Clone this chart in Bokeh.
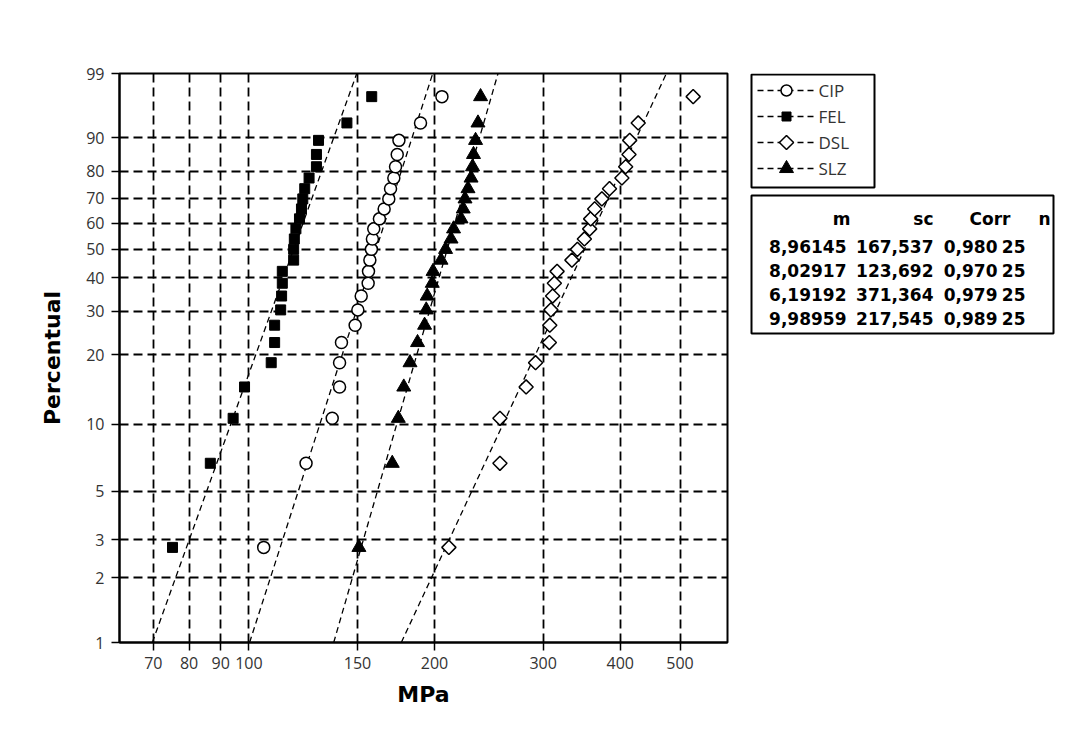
import numpy as np
from bokeh.plotting import figure
from bokeh.layouts import row
from bokeh.models import (FixedTicker, CustomJSTickFormatter, Range1d, ColumnDataSource)
from bokeh.core.properties import value
from bokeh.embed import file_html
from bokeh.resources import INLINE

# ---------------- data ----------------
groups = ["CIP", "FEL", "DSL", "SLZ"]
shape_m = [8.96145, 8.02917, 6.19192, 9.98959]
scale_sc = [167.537, 123.692, 371.364, 217.545]
corr = [0.980, 0.970, 0.979, 0.989]
n_obs = [25, 25, 25, 25]

# plotting positions (percent) shared by all series
percentual = [2.76, 6.69, 10.63, 14.57, 18.50, 22.44, 26.38, 30.31, 34.25, 38.19,
              42.13, 46.06, 50.00, 53.94, 57.87, 61.81, 65.75, 69.69, 73.62, 77.56,
              81.50, 85.43, 89.37, 93.31, 97.24]

cip_mpa = [105.7, 123.8, 136.5, 140.3, 140.3, 141.3, 148.7, 150.2, 152.1, 156.1,
           156.3, 157.1, 158.0, 158.6, 159.4, 162.8, 165.7, 168.6, 169.7, 171.8,
           172.9, 174.0, 175.1, 189.8, 205.6]
fel_mpa = [75.2, 86.6, 94.3, 98.4, 108.7, 110.1, 110.1, 112.6, 113.0, 113.3,
           113.3, 118.2, 118.2, 118.5, 119.2, 120.8, 121.7, 122.3, 123.2, 125.2,
           128.7, 128.7, 129.7, 144.2, 158.2]
dsl_mpa = [211.0, 255.3, 255.3, 281.5, 291.6, 307.0, 307.5, 308.8, 310.8, 312.8,
           316.0, 334.0, 340.9, 349.9, 356.9, 358.2, 363.6, 373.5, 384.3, 402.5,
           408.2, 413.3, 414.4, 427.8, 525.2]
slz_mpa = [150.8, 170.8, 174.7, 178.3, 182.5, 187.7, 192.7, 193.9, 194.6, 198.3,
           198.9, 204.9, 208.4, 212.7, 214.7, 220.8, 222.6, 224.1, 226.6, 229.2,
           230.5, 231.3, 233.1, 235.2, 237.5]
series = [cip_mpa, fel_mpa, dsl_mpa, slz_mpa]

x_ticks = [70, 80, 90, 100, 150, 200, 300, 400, 500]
y_ticks_pct = [1, 2, 3, 5, 10, 20, 30, 40, 50, 60, 70, 80, 90, 99]
table_header = ["m", "sc", "Corr", "n"]


def wz(pct):
    """Weibull probability-paper transform."""
    p = np.asarray(pct, dtype=float) / 100.0
    return np.log(-np.log(1.0 - p))


z_lo, z_hi = float(wz(1)), float(wz(99))

FRAME_W, FRAME_H = 608, 569
B_LEFT, B_TOP, B_BOTTOM, B_RIGHT = 119, 73, 80, 10
MAIN_W = B_LEFT + FRAME_W + B_RIGHT
TOTAL_H = B_TOP + FRAME_H + B_BOTTOM
SIDE_W = 1070 - MAIN_W

# ---------------- main figure ----------------
p = figure(frame_width=FRAME_W, frame_height=FRAME_H,
           x_axis_type="log", x_range=Range1d(61.7, 597),
           y_range=Range1d(z_lo, z_hi),
           output_backend="svg", toolbar_location=None, align="start",
           min_border_left=B_LEFT, min_border_right=B_RIGHT,
           min_border_top=B_TOP, min_border_bottom=B_BOTTOM)
p.background_fill_color = "white"
p.border_fill_color = "white"
p.outline_line_color = "black"
p.outline_line_width = 2

xt = FixedTicker(ticks=x_ticks)
yt = FixedTicker(ticks=[float(v) for v in wz(y_ticks_pct)])
p.xaxis.ticker = xt
p.yaxis.ticker = yt
p.xgrid.ticker = xt
p.ygrid.ticker = yt
p.xaxis.formatter = CustomJSTickFormatter(code="return String(Math.round(tick));")
p.yaxis.formatter = CustomJSTickFormatter(
    code="return String(Math.round((1 - Math.exp(-Math.exp(tick))) * 100));")

for ax in (p.xaxis, p.yaxis):
    ax.minor_tick_line_color = None
    ax.major_tick_out = 8
    ax.major_tick_in = 0
    ax.major_tick_line_width = 1.5
    ax.major_tick_line_color = "black"
    ax.axis_line_width = 2
    ax.axis_line_color = "black"
    ax.major_label_text_font = "Open Sans"
    ax.major_label_text_font_size = "16px"
    ax.major_label_text_color = "#333333"
    ax.axis_label_text_font = "DejaVu Sans"
    ax.axis_label_text_font_style = "bold"
    ax.axis_label_text_font_size = "22px"
    ax.axis_label_text_color = "black"

p.xaxis.axis_label = "MPa"
p.yaxis.axis_label = "Percentual"
p.xaxis.major_label_standoff = 6
p.yaxis.major_label_standoff = 7
p.xaxis.axis_label_standoff = 10
p.yaxis.axis_label_standoff = 18

for g in (p.xgrid, p.ygrid):
    g.grid_line_color = "black"
    g.grid_line_width = 1.8
    g.grid_line_dash = "9 5"

markers = [
    dict(marker="circle", size=12, fill_color="white", line_color="black", line_width=1.5, angle=0),
    dict(marker="square", size=10, fill_color="black", line_color="black", line_width=1, angle=0),
    dict(marker="square", size=10, fill_color="white", line_color="black", line_width=1.5, angle=np.pi / 4),
    dict(marker="triangle", size=14, fill_color="black", line_color="black", line_width=1, angle=0),
]
legend_sizes = [11, 9, 10, 14]
fit_style = dict(line_color="black", line_width=1.3, line_dash="6 4")

y_pts = wz(percentual)
for name, m, sc, vals, mk in zip(groups, shape_m, scale_sc, series, markers):
    zz = np.array([z_lo, z_hi])
    xx = sc * np.exp(zz / m)
    p.line(xx, zz, **fit_style)
    p.scatter(vals, y_pts, **mk)

# ---------------- side panel: legend + statistics table ----------------
# side panel works in page pixels (x from the left, y from the top); its frame
# is aligned with the main frame (page y 73..642)
s = figure(frame_width=SIDE_W, frame_height=FRAME_H,
           x_range=Range1d(MAIN_W, MAIN_W + SIDE_W),
           y_range=Range1d(B_TOP + FRAME_H, B_TOP),
           output_backend="svg", toolbar_location=None, align="start",
           x_axis_location=None, y_axis_location=None,
           min_border=0, min_border_left=0, min_border_right=0,
           min_border_top=B_TOP, min_border_bottom=B_BOTTOM)
s.outline_line_color = None
s.background_fill_color = "white"
s.border_fill_color = "white"
s.xgrid.visible = False
s.ygrid.visible = False

# legend box
s.quad(left=[751], right=[874], top=[74], bottom=[187],
       fill_color="white", line_color="black", line_width=2)
leg_y = [90, 116, 142, 168]
s.segment(x0=[757] * 4, x1=[813] * 4, y0=leg_y, y1=leg_y, **fit_style)
for yy, mk, sz in zip(leg_y, markers, legend_sizes):
    kw = dict(mk)
    kw["size"] = sz
    s.scatter(x=[786], y=[yy], **kw)
s.text(x=[818] * 4, y=leg_y, text=groups, text_align="left", text_baseline="middle",
       text_font=value("Open Sans"), text_font_size=value("17px"), text_color="#333333")

# table frame
s.quad(left=[751], right=[1053], top=[195], bottom=[333],
       fill_color=None, line_color="black", line_width=2)

txt_kw = dict(text_align="right", text_baseline="alphabetic",
              text_font=value("DejaVu Sans"), text_font_style="bold",
              text_font_size=value("17px"), text_color="black")

header_x = [850, 933, 1010, 1050]
s.text(x=header_x, y=[218.5] * 4, text=table_header, **txt_kw)

col_x = [846, 933, 997, 1025]
row_y = [245.7, 270, 294, 318.3]
tx, ty, tt = [], [], []
for i in range(len(groups)):
    cells = [f"{shape_m[i]:.5f}".replace(".", ","),
             f"{scale_sc[i]:.3f}".replace(".", ","),
             f"{corr[i]:.3f}".replace(".", ","),
             str(n_obs[i])]
    for c, cx in zip(cells, col_x):
        tx.append(cx)
        ty.append(row_y[i])
        tt.append(c)
s.text(source=ColumnDataSource(dict(x=tx, y=ty, text=tt)), x="x", y="y", text="text", **txt_kw)

layout = row(p, s, spacing=0, align="start")
open("out.html", "w").write(file_html(layout, INLINE))
